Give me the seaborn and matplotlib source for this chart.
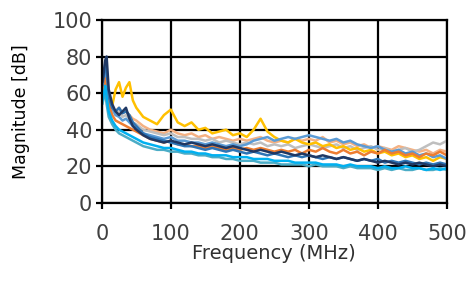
import pandas as pd
import seaborn as sb
import matplotlib.pyplot as plt

# frecuencias (MHz)
freq = [1, 3, 5, 7, 10, 15, 20, 25, 30, 35, 40, 45, 50] + list(range(60, 501, 10))

oro = [58, 62, 66, 60, 55, 53, 62, 66, 58, 63, 66, 56, 52,
       47, 45, 43, 48, 51, 44, 42, 44, 40, 41, 38, 39, 40, 37, 38,
       36, 40, 46, 39, 36, 34, 33, 35, 33, 32,
       33, 31, 32, 30, 31, 29, 30, 28, 29, 27,
       28, 26, 27, 25, 26, 24, 25, 23, 25, 24]
durazno = [56, 60, 62, 57, 52, 50, 50, 52, 49, 50, 48, 46, 45,
           42, 40, 39, 38, 40, 38, 37, 38, 36, 37, 35, 36, 35, 34, 35,
           34, 35, 36, 34, 33, 34, 33, 35, 34, 35,
           34, 36, 33, 34, 32, 33, 31, 32, 30, 31,
           30, 29, 31, 30, 29, 28, 29, 27, 29, 28]
gris = [60, 66, 70, 64, 56, 50, 48, 50, 47, 48, 46, 44, 43,
        40, 39, 38, 37, 38, 36, 36, 35, 35, 34, 35, 33, 34, 33, 32,
        33, 32, 33, 31, 32, 31, 32, 30, 31, 32,
        31, 30, 31, 32, 30, 31, 29, 30, 31, 29,
        30, 28, 29, 30, 28, 29, 31, 33, 32, 34]
celeste = [62, 68, 72, 66, 58, 52, 48, 47, 45, 46, 44, 42, 41,
           38, 37, 36, 35, 36, 34, 34, 33, 33, 32, 33, 32, 31, 32, 31,
           32, 34, 35, 36, 34, 35, 36, 35, 36, 37,
           36, 35, 34, 35, 33, 34, 32, 31, 30, 31,
           29, 28, 29, 27, 28, 26, 27, 25, 26, 24]
naranja = [58, 64, 68, 62, 54, 48, 45, 44, 43, 42, 41, 40, 39,
           37, 35, 34, 33, 34, 32, 32, 31, 31, 30, 31, 30, 29, 30, 29,
           30, 29, 30, 29, 28, 29, 28, 29, 27, 29,
           28, 30, 28, 27, 29, 27, 28, 26, 28, 27,
           29, 27, 28, 26, 27, 25, 27, 26, 28, 26]
azul = [64, 70, 76, 72, 58, 52, 50, 52, 49, 50, 48, 44, 42,
        38, 36, 35, 34, 33, 32, 31, 31, 30, 29, 30, 29, 28, 29, 28,
        27, 28, 27, 26, 27, 26, 25, 26, 25, 26,
        25, 24, 25, 24, 25, 24, 23, 24, 23, 24,
        22, 23, 22, 23, 22, 21, 22, 21, 22, 21]
marino = [66, 72, 78, 80, 62, 54, 50, 48, 50, 52, 46, 42, 40,
          37, 35, 34, 33, 34, 33, 32, 33, 32, 31, 32, 31, 30, 31, 30,
          29, 28, 29, 28, 27, 28, 27, 26, 27, 26,
          25, 26, 25, 24, 25, 24, 23, 24, 23, 22,
          23, 22, 21, 22, 21, 22, 21, 20, 21, 20]
cian = [56, 60, 64, 58, 50, 45, 42, 40, 39, 38, 37, 36, 35,
        33, 32, 31, 30, 30, 29, 28, 28, 27, 27, 26, 26, 26, 25, 25,
        25, 24, 24, 24, 23, 23, 23, 22, 22, 22,
        22, 21, 21, 21, 20, 21, 20, 20, 20, 19,
        20, 19, 19, 20, 19, 19, 18, 19, 18, 19]
turquesa = [54, 58, 60, 54, 47, 43, 40, 38, 37, 36, 35, 34, 33,
            31, 30, 29, 29, 28, 28, 27, 27, 26, 26, 25, 25, 24, 24, 23,
            23, 23, 22, 22, 22, 21, 21, 21, 21, 20,
            21, 20, 20, 20, 19, 20, 19, 19, 19, 18,
            19, 18, 19, 18, 18, 19, 18, 18, 19, 18]

series = {"durazno": durazno, "gris": gris, "oro": oro, "celeste": celeste,
          "naranja": naranja, "azul": azul, "marino": marino,
          "turquesa": turquesa, "cian": cian}
colores = {"durazno": "#F4B183", "gris": "#BFBFBF", "oro": "#FFC000",
           "celeste": "#5B9BD5", "naranja": "#ED7D31", "azul": "#2E75B6",
           "marino": "#1F3864", "turquesa": "#4BACC6", "cian": "#00B0F0"}

filas = []
for nombre, valores in series.items():
    for f, v in zip(freq, valores):
        filas.append({"f": f, "mag": v, "serie": nombre})
datos = pd.DataFrame(filas)

sb.set_style("white")
plt.rcParams["font.family"] = ["DejaVu Sans"]

fig = plt.figure(figsize=(4.67, 2.81), dpi=100)
ax = fig.add_axes([0.218, 0.278, 0.739, 0.651])
sb.lineplot(data=datos, x="f", y="mag", hue="serie", palette=colores,
            linewidth=1.8, legend=False, ax=ax)

ax.set_xlim(0, 500)
ax.set_ylim(0, 100)
ax.set_xticks(range(0, 501, 100))
ax.set_yticks(range(0, 101, 20))
ax.grid(True, color="black", linewidth=1.6)
ax.set_axisbelow(True)
for s in ax.spines.values():
    s.set_color("black")
    s.set_linewidth(1.6)
ax.tick_params(direction="out", length=4, width=1.6, color="black",
               labelsize=15, labelcolor="#404040", left=True, bottom=True)
ax.tick_params(axis="x", pad=11)
ax.tick_params(axis="y", pad=3)
ax.set_xlabel("Frequency (MHz)", fontsize=14, color="#303030", labelpad=0)
ax.set_ylabel("Magnitude [dB]", fontsize=12.5, color="black", labelpad=16)

plt.savefig("out.png", dpi=100)
